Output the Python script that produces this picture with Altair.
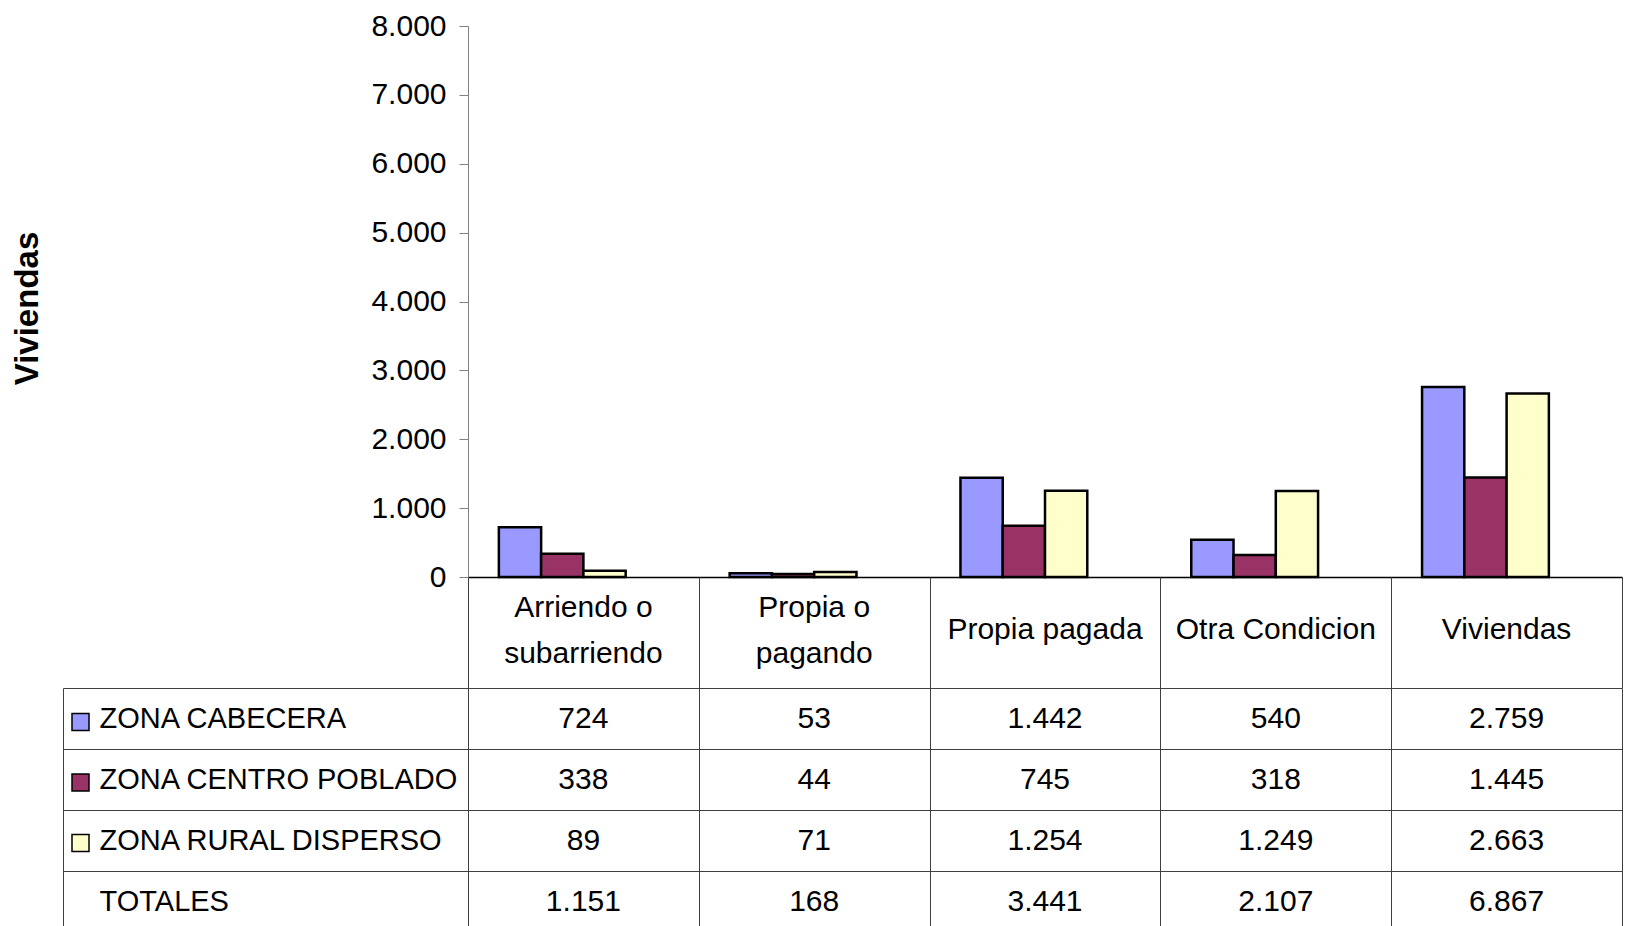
import altair as alt
import pandas as pd

categories = ["Arriendo o subarriendo", "Propia o pagando", "Propia pagada", "Otra Condicion", "Viviendas"]
header_text = ["Arriendo o|subarriendo", "Propia o|pagando", "Propia pagada", "Otra Condicion", "Viviendas"]
series = ["ZONA CABECERA", "ZONA CENTRO POBLADO", "ZONA RURAL DISPERSO"]
row_labels = ["ZONA CABECERA", "ZONA CENTRO POBLADO", "ZONA RURAL DISPERSO", "TOTALES"]
cabecera = [724, 53, 1442, 540, 2759]
centro = [338, 44, 745, 318, 1445]
rural = [89, 71, 1254, 1249, 2663]
totales = [1151, 168, 3441, 2107, 6867]
colors = ["#9999FF", "#993366", "#FFFFCC"]
y_ticks = [0, 1000, 2000, 3000, 4000, 5000, 6000, 7000, 8000]


def fmt(v):
    return f"{v:,}".replace(",", ".")


bars_df = pd.DataFrame(
    [{"cat": c, "serie": s, "value": v}
     for s, vals in zip(series, [cabecera, centro, rural])
     for c, v in zip(categories, vals)]
)
table_df = pd.DataFrame(
    [{"cat": c, "row": r, "label": fmt(v)}
     for r, vals in zip(row_labels, [cabecera, centro, rural, totales])
     for c, v in zip(categories, vals)]
)
header_df = pd.DataFrame({"cat": categories, "text": header_text})

FONT = "Liberation Sans"
LINE = "#404040"
W = 1154

x_scale = alt.Scale(domain=categories, paddingInner=0, paddingOuter=0)

bars = alt.Chart(bars_df).mark_bar(stroke="black", strokeWidth=2.5).encode(
    x=alt.X("cat:N", scale=x_scale, sort=categories,
            axis=alt.Axis(title=None, labels=False, ticks=False, grid=False,
                          domainColor="black", domainWidth=1.5)),
    xOffset=alt.XOffset("serie:N", sort=row_labels,
                        scale=alt.Scale(domain=row_labels, paddingInner=0, paddingOuter=0.73)),
    y=alt.Y("value:Q", scale=alt.Scale(domain=[0, 8000], nice=False),
            axis=alt.Axis(values=y_ticks, title="Viviendas", titleFont=FONT, titleFontSize=33,
                          titleFontWeight="bold", titleColor="black", titlePadding=326,
                          titleY=282,
                          labelExpr="replace(format(datum.value, ','), ',', '.')",
                          labelFont=FONT, labelFontSize=30, labelColor="black", labelPadding=13,
                          tickSize=9, tickColor="#808080", domainColor="#808080", grid=False)),
    color=alt.Color("serie:N", scale=alt.Scale(domain=series, range=colors),
                    legend=alt.Legend(orient="none", legendX=-397, legendY=686.5, title=None,
                                      symbolType="square", symbolSize=289,
                                      symbolStrokeColor="black", symbolStrokeWidth=1.5,
                                      labelExpr="''", labelFontSize=1, rowPadding=37.5,
                                      direction="vertical", padding=0)),
).properties(width=W, height=551)

header_x = alt.X("cat:N", scale=x_scale, sort=categories,
                 axis=alt.Axis(title=None, labels=False, ticks=False, domain=False,
                               grid=True, gridColor=LINE, gridWidth=1, tickBand="extent"))

header_two = alt.Chart(header_df).transform_filter(
    "indexof(datum.text, '|') >= 0"
).mark_text(font=FONT, fontSize=30, color="black", lineBreak="|", lineHeight=46,
            baseline="middle", dy=-25).encode(x=header_x, text="text:N")

header_one = alt.Chart(header_df).transform_filter(
    "indexof(datum.text, '|') < 0"
).mark_text(font=FONT, fontSize=30, color="black", baseline="middle", dy=-3).encode(
    x=header_x, text="text:N")

header = alt.layer(header_two, header_one).properties(width=W, height=111)

row_scale = alt.Scale(domain=row_labels, paddingInner=0, paddingOuter=0)

cells = alt.Chart(table_df).mark_text(font=FONT, fontSize=30, color="black").encode(
    x=alt.X("cat:N", scale=x_scale, sort=categories,
            axis=alt.Axis(orient="top", title=None, labels=False, ticks=False, domain=False,
                          grid=True, gridColor=LINE, gridWidth=1, tickBand="extent")),
    y=alt.Y("row:N", scale=row_scale, sort=row_labels,
            axis=alt.Axis(title=None, tickBand="extent", tickSize=405, tickColor=LINE,
                          grid=True, gridColor=LINE, domainColor=LINE, labelAlign="left",
                          labelPadding=-36, labelFont=FONT, labelFontSize=29,
                          labelColor="black", labelLimit=400)),
    text="label:N",
)

border = alt.Chart(table_df).mark_text(opacity=0).encode(
    y=alt.Y("row:N", scale=row_scale, sort=row_labels,
            axis=alt.Axis(orient="left", offset=405, title=None, labels=False, ticks=False,
                          grid=False, domain=True, domainColor=LINE)),
    text="label:N",
)

rows = alt.layer(cells, border).resolve_axis(y="independent").properties(width=W, height=244)

chart = alt.vconcat(bars, header, rows, spacing=0, bounds="flush").properties(
    padding=3
).configure_view(strokeWidth=0)

chart.save("out.html", embed_options={"renderer": "svg", "actions": False})
